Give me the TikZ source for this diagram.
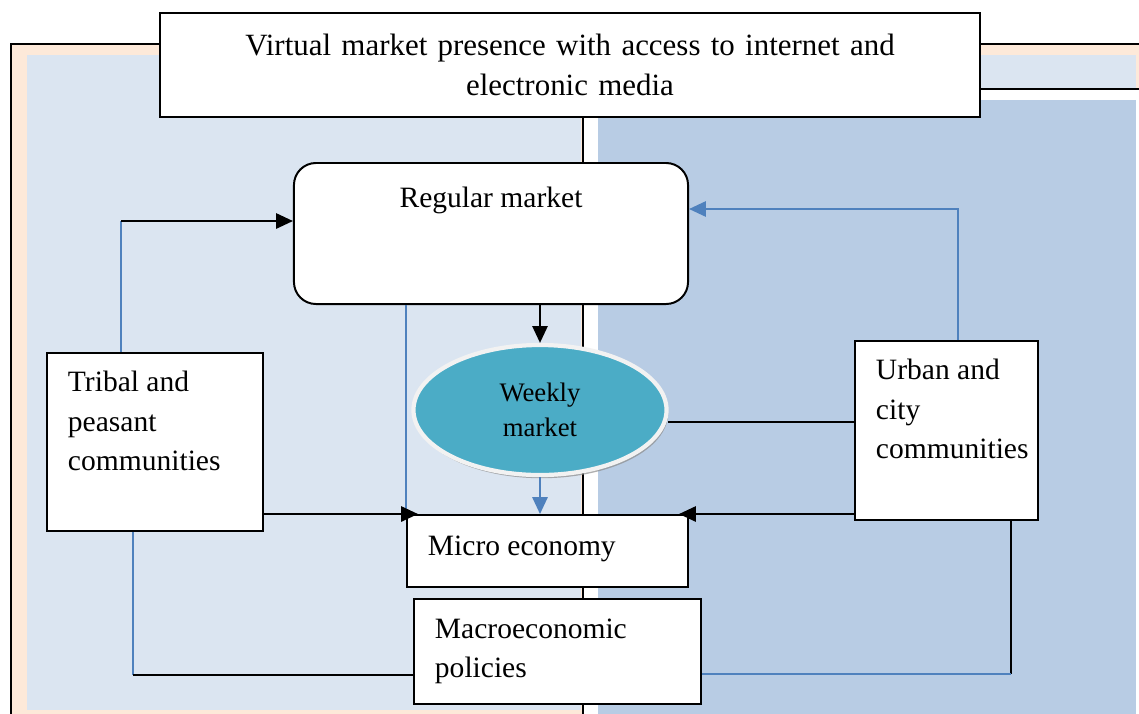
\documentclass[tikz,border=0pt]{standalone}
\usepackage{fontspec}
\setmainfont{Liberation Serif}
\usetikzlibrary{positioning}
\usetikzlibrary{arrows.meta}
\usetikzlibrary{shapes.geometric}
\usetikzlibrary{shadows}

\definecolor{peach}{HTML}{FDE9D9}
\definecolor{paleblue}{HTML}{DBE5F1}
\definecolor{midblue}{HTML}{B8CCE4}
\definecolor{teal}{HTML}{4BACC6}
\definecolor{lineblue}{HTML}{4F81BD}

\begin{document}
\begin{tikzpicture}
          [
          x=0.025cm, y=-0.025cm,
          >={Triangle[length=0.42cm, width=0.38cm]},
          Box/.style={rectangle, draw=black, fill=white, line width=1.4pt, inner sep=0pt,
                      font=\fontsize{21}{28}\selectfont},
          Round/.style={Box, rounded corners=0.55cm},
          Oval/.style={ellipse, draw=black!5, fill=teal, line width=3pt, inner sep=0pt,
                       minimum width=6.325cm, minimum height=3.25cm,
                       font=\fontsize{19}{25}\selectfont, align=center,
                       drop shadow={shadow xshift=0.04cm, shadow yshift=-0.08cm, fill=black!45, opacity=0.7}},
          Line/.style={draw=black, line width=1.4pt},
          Blue/.style={draw=lineblue, line width=1.4pt},
          ]
          \clip (0,0) rectangle (1139,713);

          % Panels
          \draw[fill=peach, line width=1.4pt] (11,44) rectangle (583,730);
          \fill[paleblue] (27,55) rectangle (581,710);
          \draw[fill=peach, line width=1.4pt] (583,44) rectangle (1150,89);
          \fill[paleblue] (584,55) rectangle (1136,88);
          \fill[white] (584,90) rectangle (1139,713);
          \fill[midblue] (598,100) rectangle (1136,720);

          % Nodes
          \node[Box, minimum width=20.5cm, minimum height=2.6cm, text width=19.5cm, align=center,
                font=\fontsize{22}{29}\selectfont] (Virtual) at (570,65)
               {Virtual market presence with access to internet and\\ electronic media};
          \node[Round, minimum width=9.85cm, text height=1.1cm, text depth=2.425cm] (Regular) at (491,233.5) {Regular market};
          \node[Oval] (Weekly) at (540,410) {Weekly\\ market};
          \node[Box, text height=0.975cm, text depth=3.475cm] (Tribal) at (155,442)
               {\parbox[t]{5.4cm}{\leftskip=0.525cm Tribal and\\ peasant\\ communities}};
          \node[Box, text height=0.975cm, text depth=3.5cm] (Urban) at (946.5,430.5)
               {\parbox[t]{4.575cm}{\leftskip=0.525cm Urban and\\ city\\ communities}};
          \node[Box, text height=1.0cm, text depth=0.8cm] (Micro) at (547.5,551)
               {\parbox[t]{7.025cm}{\leftskip=0.525cm Micro economy}};
          \node[Box, text height=0.975cm, text depth=1.65cm] (Macro) at (557.5,651.5)
               {\parbox[t]{7.175cm}{\leftskip=0.525cm Macroeconomic\\ policies}};

          % Corners
          \coordinate (TribalUp) at (121,221);
          \coordinate (UrbanUp) at (958,209);
          \coordinate (WeeklyUrban) at (668,422);
          \coordinate (TribalDown) at (133,675);
          \coordinate (UrbanDown) at (1011,674);

          % Lines
          \path [Blue] (Tribal.north -| TribalUp) -- (TribalUp);
          \path [->, Line] (TribalUp) -- (Regular.west |- TribalUp);
          \path [->, Blue] (Urban.north -| UrbanUp) -- (UrbanUp) -- (Regular.east |- UrbanUp);
          \path [->, Line] (Regular.south -| Weekly.north) -- (Weekly.north);
          \path [->, Blue] (Weekly.south) -- (Weekly.south |- Micro.north);
          \path [Blue] (Regular.south -| Micro.north west) -- (Micro.north west);
          \path [->, Line, shorten >=-0.3cm] (Tribal.east |- Micro.north west) -- (Micro.north west);
          \path [->, Line, shorten >=-0.25cm] (Urban.west |- Micro.north east) -- (Micro.north east);
          \path [Line] (WeeklyUrban) -- (Urban.west |- WeeklyUrban);
          \path [Blue] (Tribal.south -| TribalDown) -- (TribalDown);
          \path [Line] (TribalDown) -- (Macro.west |- TribalDown);
          \path [Line] (Urban.south -| UrbanDown) -- (UrbanDown);
          \path [Blue] (UrbanDown) -- (Macro.east |- UrbanDown);

        \end{tikzpicture}
\end{document}
